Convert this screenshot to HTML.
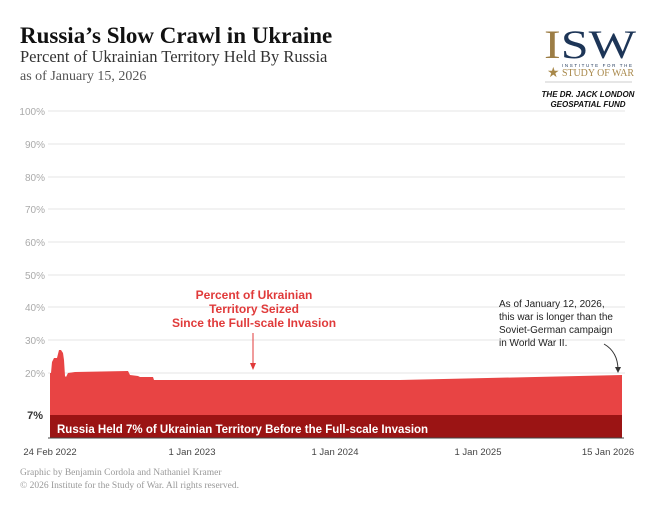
<!DOCTYPE html>
<html><head><meta charset="utf-8"><style>
body{margin:0;background:#fff;width:665px;height:511px;overflow:hidden}
</style></head><body>
<svg width="665" height="511" xmlns="http://www.w3.org/2000/svg">
<text x="20" y="43" font-family="Liberation Serif" font-weight="bold" font-size="23" fill="#111">Russia’s Slow Crawl in Ukraine</text>
<text x="20" y="62" font-family="Liberation Serif" font-size="16.5" fill="#333">Percent of Ukrainian Territory Held By Russia</text>
<text x="20" y="80" font-family="Liberation Serif" font-size="14" fill="#555">as of January 15, 2026</text>
<!-- logo -->
<text x="544" y="58" font-family="Liberation Serif" font-size="40" fill="#1d3557" textLength="92" lengthAdjust="spacingAndGlyphs"><tspan fill="#9c7d45">I</tspan>SW</text>
<text x="547" y="77" font-family="Liberation Serif" font-size="14" fill="#a8884a">★</text>
<text x="562" y="67" font-family="Liberation Sans" font-size="4.5" fill="#1d3557" textLength="70">INSTITUTE FOR THE</text>
<text x="562" y="76" font-family="Liberation Serif" font-size="10.5" fill="#a8884a" textLength="72" lengthAdjust="spacingAndGlyphs">STUDY OF WAR</text>
<line x1="545" y1="82" x2="632" y2="82" stroke="#bbb" stroke-width="0.8"/>
<text x="588" y="97" text-anchor="middle" font-family="Liberation Sans" font-style="italic" font-weight="bold" font-size="8" fill="#111">THE DR. JACK LONDON</text>
<text x="588" y="107" text-anchor="middle" font-family="Liberation Sans" font-style="italic" font-weight="bold" font-size="8" fill="#111">GEOSPATIAL FUND</text>
<!-- grid -->
<g stroke="#e6e6e6" stroke-width="1">
<line x1="48" y1="111" x2="625" y2="111"/><line x1="48" y1="144" x2="625" y2="144"/>
<line x1="48" y1="177" x2="625" y2="177"/><line x1="48" y1="209" x2="625" y2="209"/>
<line x1="48" y1="242" x2="625" y2="242"/><line x1="48" y1="275" x2="625" y2="275"/>
<line x1="48" y1="307" x2="625" y2="307"/><line x1="48" y1="340" x2="625" y2="340"/>
<line x1="48" y1="373" x2="625" y2="373"/>
</g>
<g font-family="Liberation Sans" font-size="10" fill="#aaa" text-anchor="end">
<text x="45" y="115">100%</text><text x="45" y="148">90%</text><text x="45" y="181">80%</text>
<text x="45" y="213">70%</text><text x="45" y="246">60%</text><text x="45" y="279">50%</text>
<text x="45" y="311">40%</text><text x="45" y="344">30%</text><text x="45" y="377">20%</text>
</g>
<text x="43" y="419" text-anchor="end" font-family="Liberation Sans" font-weight="bold" font-size="11" fill="#333">7%</text>
<polygon fill="#e84444" points="50,438 50,373 51,373 52,362 54,358 57,358 59,350 61,350 63,353 64,360 65,376 66,377 68,373 75,372 128,371 130,375 138,376 140,377 153,377 154,380 400,380 622,375 622,438"/>
<rect x="50" y="415" width="572" height="23" fill="#9b1414"/>
<line x1="48" y1="438" x2="624" y2="438" stroke="#444" stroke-width="1"/>
<text x="57" y="433" font-family="Liberation Sans" font-weight="bold" font-size="11.5" fill="#fff">Russia Held 7% of Ukrainian Territory Before the Full-scale Invasion</text>
<g font-family="Liberation Sans" font-size="9.5" fill="#444" text-anchor="middle">
<text x="50" y="455">24 Feb 2022</text><text x="192" y="455">1 Jan 2023</text>
<text x="335" y="455">1 Jan 2024</text><text x="478" y="455">1 Jan 2025</text><text x="608" y="455">15 Jan 2026</text>
</g>
<g font-family="Liberation Sans" font-weight="bold" font-size="12" fill="#e03a3a" text-anchor="middle">
<text x="254" y="299">Percent of Ukrainian</text><text x="254" y="313">Territory Seized</text><text x="254" y="327">Since the Full-scale Invasion</text>
</g>
<line x1="253" y1="333" x2="253" y2="366" stroke="#e03a3a" stroke-width="1"/>
<polygon points="250,363 256,363 253,370" fill="#e03a3a"/>
<g font-family="Liberation Sans" font-size="10" fill="#222">
<text x="499" y="307">As of January 12, 2026,</text><text x="499" y="320">this war is longer than the</text>
<text x="499" y="333">Soviet-German campaign</text><text x="499" y="346">in World War II.</text>
</g>
<path d="M604,344 Q618,352 618,370" fill="none" stroke="#333" stroke-width="1"/>
<polygon points="615,367 621,367 618,373" fill="#333"/>
<text x="20" y="475" font-family="Liberation Serif" font-size="9.5" fill="#999">Graphic by Benjamin Cordola and Nathaniel Kramer</text>
<text x="20" y="488" font-family="Liberation Serif" font-size="9.5" fill="#999">© 2026 Institute for the Study of War. All rights reserved.</text>
</svg>
</body></html>
